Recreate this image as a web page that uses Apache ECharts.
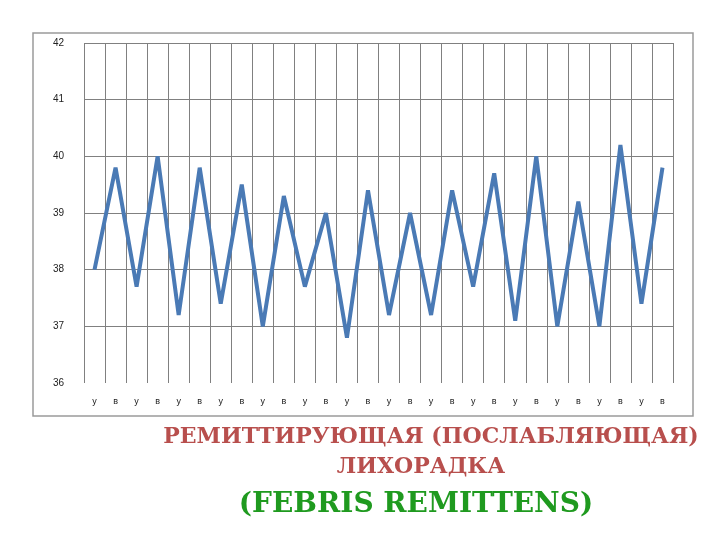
<!doctype html>
<html lang="ru">
<head>
    <meta charset="utf-8">
    <title>Ремиттирующая лихорадка</title>
    <script src="https://cdn.jsdelivr.net/npm/echarts@6/dist/echarts.min.js"></script>
    <style>
        html, body { margin: 0; padding: 0; background: #fff; }
        #chart { width: 720px; height: 540px; }
    </style>
</head>
<body>
    <div id="chart"></div>
    <script>
        // у = утро, в = вечер
        let days = ['у', 'в', 'у', 'в', 'у', 'в', 'у', 'в', 'у', 'в', 'у', 'в', 'у', 'в',
                    'у', 'в', 'у', 'в', 'у', 'в', 'у', 'в', 'у', 'в', 'у', 'в', 'у', 'в'];
        let temperature = [38.0, 39.8, 37.7, 40.0, 37.2, 39.8, 37.4, 39.5, 37.0, 39.3, 37.7, 39.0, 36.8, 39.4,
                           37.2, 39.0, 37.2, 39.4, 37.7, 39.7, 37.1, 40.0, 37.0, 39.2, 37.0, 40.2, 37.4, 39.8];
        let titleLines = ['РЕМИТТИРУЮЩАЯ (ПОСЛАБЛЯЮЩАЯ)', 'ЛИХОРАДКА', '(FEBRIS REMITTENS)'];

        let myChart = echarts.init(document.getElementById('chart'));
        let option = {
            animation: false,
            grid: { left: 84, right: 47, top: 43, bottom: 157 },
            xAxis: {
                type: 'category',
                data: days,
                boundaryGap: true,
                axisLine: { show: false },
                axisTick: { show: false },
                axisLabel: { margin: 14, fontSize: 9, color: '#222', interval: 0 },
                splitLine: { show: true, interval: 0, lineStyle: { color: '#808080', width: 1 } }
            },
            yAxis: {
                type: 'value',
                min: 36,
                max: 42,
                interval: 1,
                axisLine: { show: false },
                axisTick: { show: false },
                axisLabel: { margin: 20, fontSize: 10, color: '#222' },
                splitLine: {
                    show: true,
                    lineStyle: { color: ['rgba(0,0,0,0)', '#808080', '#808080', '#808080', '#808080', '#808080', '#808080'], width: 1 }
                }
            },
            series: [{
                type: 'line',
                data: temperature,
                showSymbol: false,
                lineStyle: { color: '#4a7ab5', width: 4 }
            }],
            graphic: [
                {
                    type: 'rect',
                    shape: { x: 33, y: 33, width: 660, height: 383 },
                    style: { fill: 'none', stroke: '#9a9a9a', lineWidth: 1.5 },
                    silent: true
                },
                {
                    type: 'text',
                    x: 431, y: 437,
                    style: {
                        text: titleLines[0], align: 'center', verticalAlign: 'middle',
                        font: 'bold 22px "DejaVu Serif"', fill: '#b84f4d'
                    }
                },
                {
                    type: 'text',
                    x: 421, y: 467,
                    style: {
                        text: titleLines[1], align: 'center', verticalAlign: 'middle',
                        font: 'bold 22px "DejaVu Serif"', fill: '#b84f4d'
                    }
                },
                {
                    type: 'text',
                    x: 416, y: 505,
                    style: {
                        text: titleLines[2], align: 'center', verticalAlign: 'middle',
                        font: 'bold 28px "DejaVu Serif"', fill: '#1f9a1f'
                    }
                }
            ]
        };
        myChart.setOption(option);
    </script>
</body>
</html>
